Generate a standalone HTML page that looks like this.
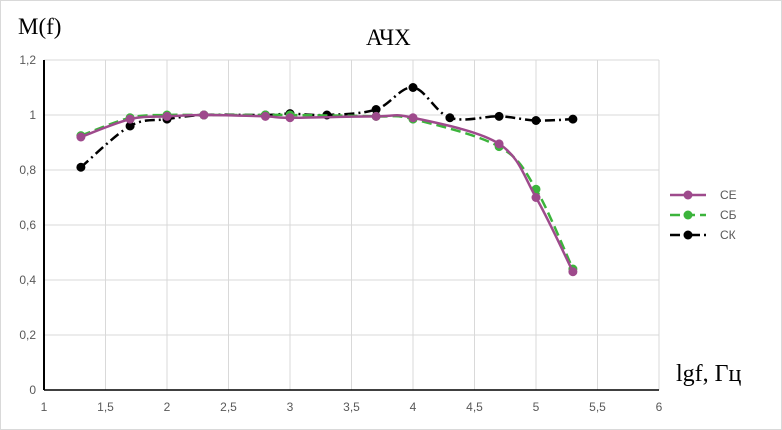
<!DOCTYPE html>
<html><head><meta charset="utf-8"><style>
body{margin:0;background:#fff;font-family:"Liberation Sans",sans-serif}
svg{display:block}
</style></head><body>
<svg id="c" width="782" height="430">
<rect x="0.5" y="0.5" width="781" height="429" fill="#fff" stroke="#d9d9d9"/>
<g id="grid"></g><g id="ser"></g>
<text x="18" y="34" font-family="Liberation Serif" font-size="23">M(f)</text>
<text x="366" y="45" font-family="Liberation Serif" font-size="23">АЧХ</text>
<text x="676" y="381" font-family="Liberation Serif" font-size="24">lgf, Гц</text>
<g id="leg"></g>
</svg>
<script>
const xTicks=[1,1.5,2,2.5,3,3.5,4,4.5,5,5.5,6];
const yTicks=[0,0.2,0.4,0.6,0.8,1,1.2];
const xCE=[1.3,1.7,2,2.3,2.8,3,3.7,4,4.7,5,5.3];
const vCE=[0.92,0.985,0.995,1.0,0.995,0.99,0.995,0.99,0.895,0.70,0.43];
const xSB=[1.3,1.7,2,2.3,2.8,3,3.7,4,4.7,5,5.3];
const vSB=[0.925,0.99,1.0,1.0,1.0,1.0,0.995,0.985,0.885,0.73,0.44];
const xSK=[1.3,1.7,2,2.3,2.8,3,3.3,3.7,4,4.3,4.7,5,5.3];
const vSK=[0.81,0.96,0.985,1.0,1.0,1.005,1.0,1.02,1.1,0.99,0.995,0.98,0.985];
const NS="http://www.w3.org/2000/svg";
const X=v=>44+(v-1)*123, Y=v=>390-v*275;
function mk(t,a,p){const e=document.createElementNS(NS,t);for(const k in a)e.setAttribute(k,a[k]);p.appendChild(e);return e;}
const g=document.getElementById('grid');
xTicks.forEach(t=>{const l=mk('line',{x1:X(t),x2:X(t),y1:Y(1.2),y2:Y(0),stroke:'#d9d9d9'},g);


const tx=mk('text',{x:X(t),y:411,'text-anchor':'middle','font-size':12,fill:'#595959'},g);tx.textContent=String(t).replace('.',',');

});
yTicks.forEach(t=>{const l=mk('line',{x1:X(1),x2:X(6),y1:Y(t),y2:Y(t),stroke:'#d9d9d9'},g);


const tx=mk('text',{x:36,y:Y(t)+4,'text-anchor':'end','font-size':12,fill:'#595959'},g);tx.textContent=String(t).replace('.',',');

});
const ax=mk('line',{x1:X(1),x2:X(1),y1:Y(1.2),y2:Y(0),stroke:'#000','stroke-width':2},g);


const bx=mk('line',{x1:X(1),x2:X(6),y1:Y(0),y2:Y(0),stroke:'#000','stroke-width':1.5},g);


function path(xs,vs){const p=xs.map((x,i)=>[X(x),Y(vs[i])]);let d='M'+p[0];
for(let i=0;i<p.length-1;i++){const p0=p[i-1]||p[i],p1=p[i],p2=p[i+1],p3=p[i+2]||p2;
const c1=[p1[0]+(p2[0]-p0[0])/6,p1[1]+(p2[1]-p0[1])/6],c2=[p2[0]-(p3[0]-p1[0])/6,p2[1]-(p3[1]-p1[1])/6];
d+=' C'+c1+' '+c2+' '+p2;}return d;}
const s=document.getElementById('ser'),L=document.getElementById('leg');
const series=[
{n:'СК',xs:xSK,vs:vSK,c:'#000',da:'10,4,2,4',id:'ck',ly:235},
{n:'СБ',xs:xSB,vs:vSB,c:'#3cb43c',da:'10,5',id:'sb',ly:215},
{n:'СЕ',xs:xCE,vs:vCE,c:'#9e4a8c',da:'none',id:'ce',ly:195}];
series.forEach(se=>{const gr=mk('g',{},s);


mk('path',{d:path(se.xs,se.vs),fill:'none',stroke:se.c,'stroke-width':2.5,'stroke-dasharray':se.da},gr);
se.xs.forEach((x,i)=>{const c=mk('circle',{cx:X(x),cy:Y(se.vs[i]),r:4.5,fill:se.c},gr);

});
const lg=mk('g',{},L);


mk('line',{x1:670,x2:706,y1:se.ly,y2:se.ly,stroke:se.c,'stroke-width':2.5,'stroke-dasharray':se.da},lg);
mk('circle',{cx:688,cy:se.ly,r:4.5,fill:se.c},lg);
const t=mk('text',{x:720,y:se.ly+4,'font-size':12,fill:'#595959'},lg);t.textContent=se.n;});
</script>
</body></html>
